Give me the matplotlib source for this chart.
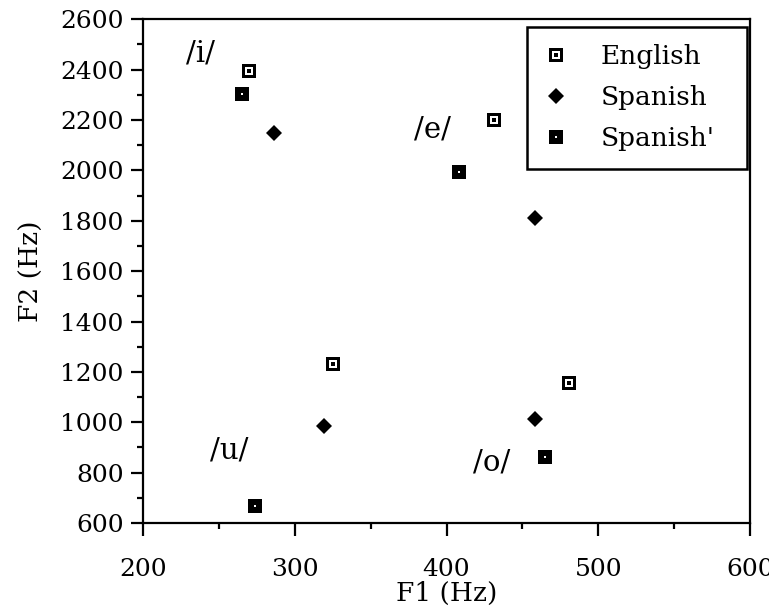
import matplotlib
matplotlib.use("Agg")
import matplotlib.pyplot as plt
from matplotlib.ticker import MultipleLocator

# Data (F1, F2 in Hz) for vowels i, e, u, o
vowels = ["/i/", "/e/", "/u/", "/o/"]
english_f1 = [270, 431, 325, 481]
english_f2 = [2395, 2200, 1230, 1157]
spanish_f1 = [286, 458, 319, 458]
spanish_f2 = [2150, 1810, 985, 1014]
spanishp_f1 = [265, 408, 274, 465]
spanishp_f2 = [2305, 1995, 668, 861]
label_x = [238, 391, 257, 430]
label_y = [2466, 2164, 886, 841]

plt.rcParams['font.family'] = ['DejaVu Serif']
fig = plt.figure(figsize=(7.69, 6.13), dpi=100)
ax = fig.add_axes([0.186, 0.1468, 0.7893, 0.8217])

# English: square with white interior and black center
e1, = ax.plot(english_f1, english_f2, 's', color='black', markersize=9.4, markeredgewidth=0, linestyle='none')
e2, = ax.plot(english_f1, english_f2, 's', color='white', markersize=5.6, markeredgewidth=0, linestyle='none')
e3, = ax.plot(english_f1, english_f2, 's', color='black', markersize=2.6, markeredgewidth=0, linestyle='none')
# Spanish: diamond
s1, = ax.plot(spanish_f1, spanish_f2, 'D', color='black', markersize=8.3, markeredgewidth=0, linestyle='none')
# Spanish': filled square with small white dot
p1, = ax.plot(spanishp_f1, spanishp_f2, 's', color='black', markersize=9.4, markeredgewidth=0, linestyle='none')
p2, = ax.plot(spanishp_f1, spanishp_f2, 's', color='white', markersize=1.8, markeredgewidth=0, linestyle='none')

for lab, x, y in zip(vowels, label_x, label_y):
    ax.text(x, y, lab, fontsize=21, ha='center', va='center')

ax.set_xlim(200, 600)
ax.set_ylim(600, 2600)
ax.xaxis.set_major_locator(MultipleLocator(100))
ax.xaxis.set_minor_locator(MultipleLocator(50))
ax.yaxis.set_major_locator(MultipleLocator(200))
ax.yaxis.set_minor_locator(MultipleLocator(100))
ax.tick_params(which='major', direction='out', length=9, width=1.6, labelsize=18)
ax.tick_params(which='minor', direction='out', length=4.5, width=1.6)
ax.tick_params(axis='x', which='major', pad=16)
ax.tick_params(axis='y', which='major', pad=5)
ax.tick_params(top=False, right=False)
for sp in ax.spines.values():
    sp.set_linewidth(1.6)

ax.set_xlabel("F1 (Hz)", fontsize=19, labelpad=0)
ax.set_ylabel("F2 (Hz)", fontsize=19, labelpad=12)

leg = ax.legend([(e1, e2, e3), s1, (p1, p2)], ["English", "Spanish", "Spanish'"],
                loc='upper left', bbox_to_anchor=(0.6326, 0.0, 0.3624, 0.9847), mode='expand',
                fontsize=19, frameon=True, fancybox=False, handlelength=0.85, handletextpad=1.29,
                borderpad=0.66, labelspacing=0.6, borderaxespad=0)
leg.get_frame().set_edgecolor('black')
leg.get_frame().set_linewidth(1.8)
leg.get_frame().set_alpha(1)

fig.savefig("out.png", dpi=100)
